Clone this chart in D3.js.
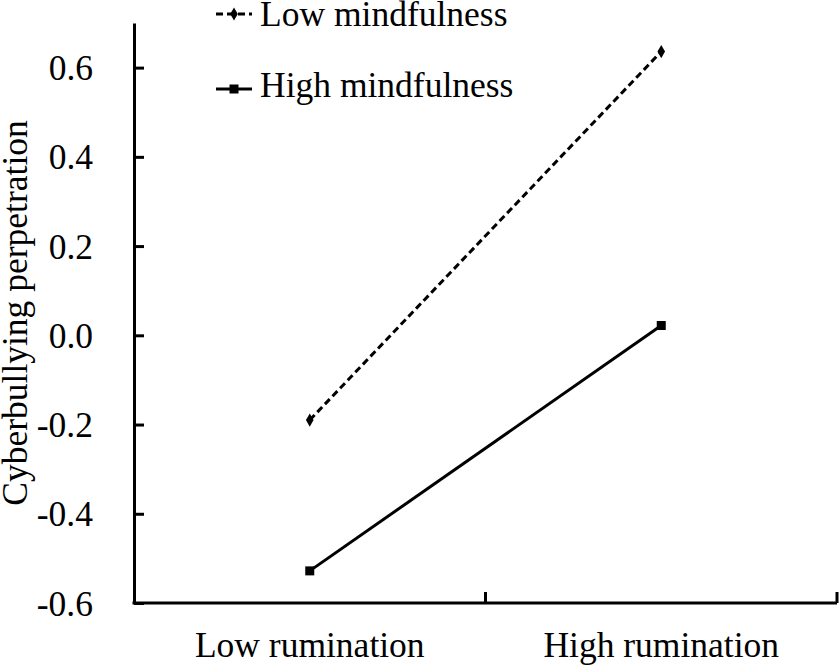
<!DOCTYPE html>
<html>
<head>
<meta charset="utf-8">
<script src="https://cdn.jsdelivr.net/npm/d3@7"></script>
<style>
  html, body { margin: 0; padding: 0; background: #fff; }
  svg { display: block; }
  svg text { font-family: "Liberation Serif", "Times New Roman", serif !important; fill: #000; }
</style>
</head>
<body>
<svg id="chart" width="839" height="665"></svg>
<script>
// ---- data ----
const categories = ["Low rumination", "High rumination"];
const seriesNames = ["Low mindfulness", "High mindfulness"];
const lowMindfulness = [-0.19, 0.636];
const highMindfulness = [-0.528, 0.022];
const yTickValues = [-0.6, -0.4, -0.2, 0.0, 0.2, 0.4, 0.6];
const yTickLabels = ["-0.6", "-0.4", "-0.2", "0.0", "0.2", "0.4", "0.6"];
const yTitle = "Cyberbullying perpetration";

(function () {
// ---- layout ----
const svg = d3.select("#chart");
const mLeft = 134, mRight = 837, mTop = 23, mBottom = 603;
const fontSize = 35.5;

const x = d3.scaleBand().domain(categories).range([mLeft, mRight]).padding(0);
const y = d3.scaleLinear().domain([-0.6, 0.7]).range([mBottom, mTop]);

// y axis
const yAxis = d3.axisLeft(y)
  .tickValues(yTickValues)
  .tickFormat((d, i) => yTickLabels[i])
  .tickSizeInner(-10)
  .tickSizeOuter(0)
  .tickPadding(41);
const gy = svg.append("g").attr("transform", `translate(${mLeft},0)`).call(yAxis);
gy.attr("font-family", "Liberation Serif").attr("font-size", fontSize);
gy.select(".domain").attr("stroke", "#000").attr("stroke-width", 3);
gy.selectAll(".tick line").attr("stroke", "#000").attr("stroke-width", 3);
gy.selectAll(".tick text")
  .attr("font-size", fontSize)
  .attr("fill", "#000")
  .attr("dy", "0.34em");

// x axis line
svg.append("line")
  .attr("x1", mLeft - 1.5).attr("x2", mRight)
  .attr("y1", mBottom).attr("y2", mBottom)
  .attr("stroke", "#000").attr("stroke-width", 3);
// x boundary ticks (upward)
svg.selectAll(".xtick").data(categories).enter().append("line")
  .attr("class", "xtick")
  .attr("x1", d => x(d) + x.bandwidth()).attr("x2", d => x(d) + x.bandwidth())
  .attr("y1", mBottom).attr("y2", mBottom - 11)
  .attr("stroke", "#000").attr("stroke-width", 3);
// x labels
svg.selectAll(".xlab").data(categories).enter().append("text")
  .attr("class", "xlab")
  .attr("x", d => x(d) + x.bandwidth() / 2)
  .attr("y", 657)
  .attr("text-anchor", "middle")
  .attr("font-size", fontSize)
  .text(d => d);

// y title
svg.append("text")
  .attr("transform", `translate(27,313) rotate(-90)`)
  .attr("text-anchor", "middle")
  .attr("font-size", fontSize)
  .text(yTitle);

// lines
const cx = d => x(d) + x.bandwidth() / 2;
const line = d3.line().x(d => cx(d.c)).y(d => y(d.v));
const lowData = categories.map((c, i) => ({ c, v: lowMindfulness[i] }));
const highData = categories.map((c, i) => ({ c, v: highMindfulness[i] }));

svg.append("path").datum(lowData).attr("d", line)
  .attr("fill", "none").attr("stroke", "#000").attr("stroke-width", 3)
  .attr("stroke-dasharray", "7,4");
svg.append("path").datum(highData).attr("d", line)
  .attr("fill", "none").attr("stroke", "#000").attr("stroke-width", 3);

const diamond = d3.symbol().type(d3.symbolDiamond).size(50);
svg.selectAll(".dm").data(lowData).enter().append("path")
  .attr("class", "dm")
  .attr("d", diamond)
  .attr("transform", d => `translate(${cx(d.c)},${y(d.v)})`)
  .attr("fill", "#000");
svg.selectAll(".sq").data(highData).enter().append("rect")
  .attr("class", "sq")
  .attr("x", d => cx(d.c) - 4.5).attr("y", d => y(d.v) - 4.5)
  .attr("width", 9).attr("height", 9)
  .attr("fill", "#000");

// legend
const legendY = [14, 89];
const legendTextY = [26, 97];
const lg = svg.append("g");
seriesNames.forEach((name, i) => {
  lg.append("line")
    .attr("x1", 216).attr("x2", 252)
    .attr("y1", legendY[i]).attr("y2", legendY[i])
    .attr("stroke", "#000").attr("stroke-width", 3)
    .attr("stroke-dasharray", i === 0 ? "7,4" : null);
  if (i === 0) {
    lg.append("path").attr("d", diamond)
      .attr("transform", `translate(234,${legendY[i]})`).attr("fill", "#000");
  } else {
    lg.append("rect").attr("x", 234 - 4.5).attr("y", legendY[i] - 4.5)
      .attr("width", 9).attr("height", 9).attr("fill", "#000");
  }
  lg.append("text")
    .attr("x", 260).attr("y", legendTextY[i])
    .attr("font-size", fontSize)
    .text(name);
});
})();
</script>
</body>
</html>
